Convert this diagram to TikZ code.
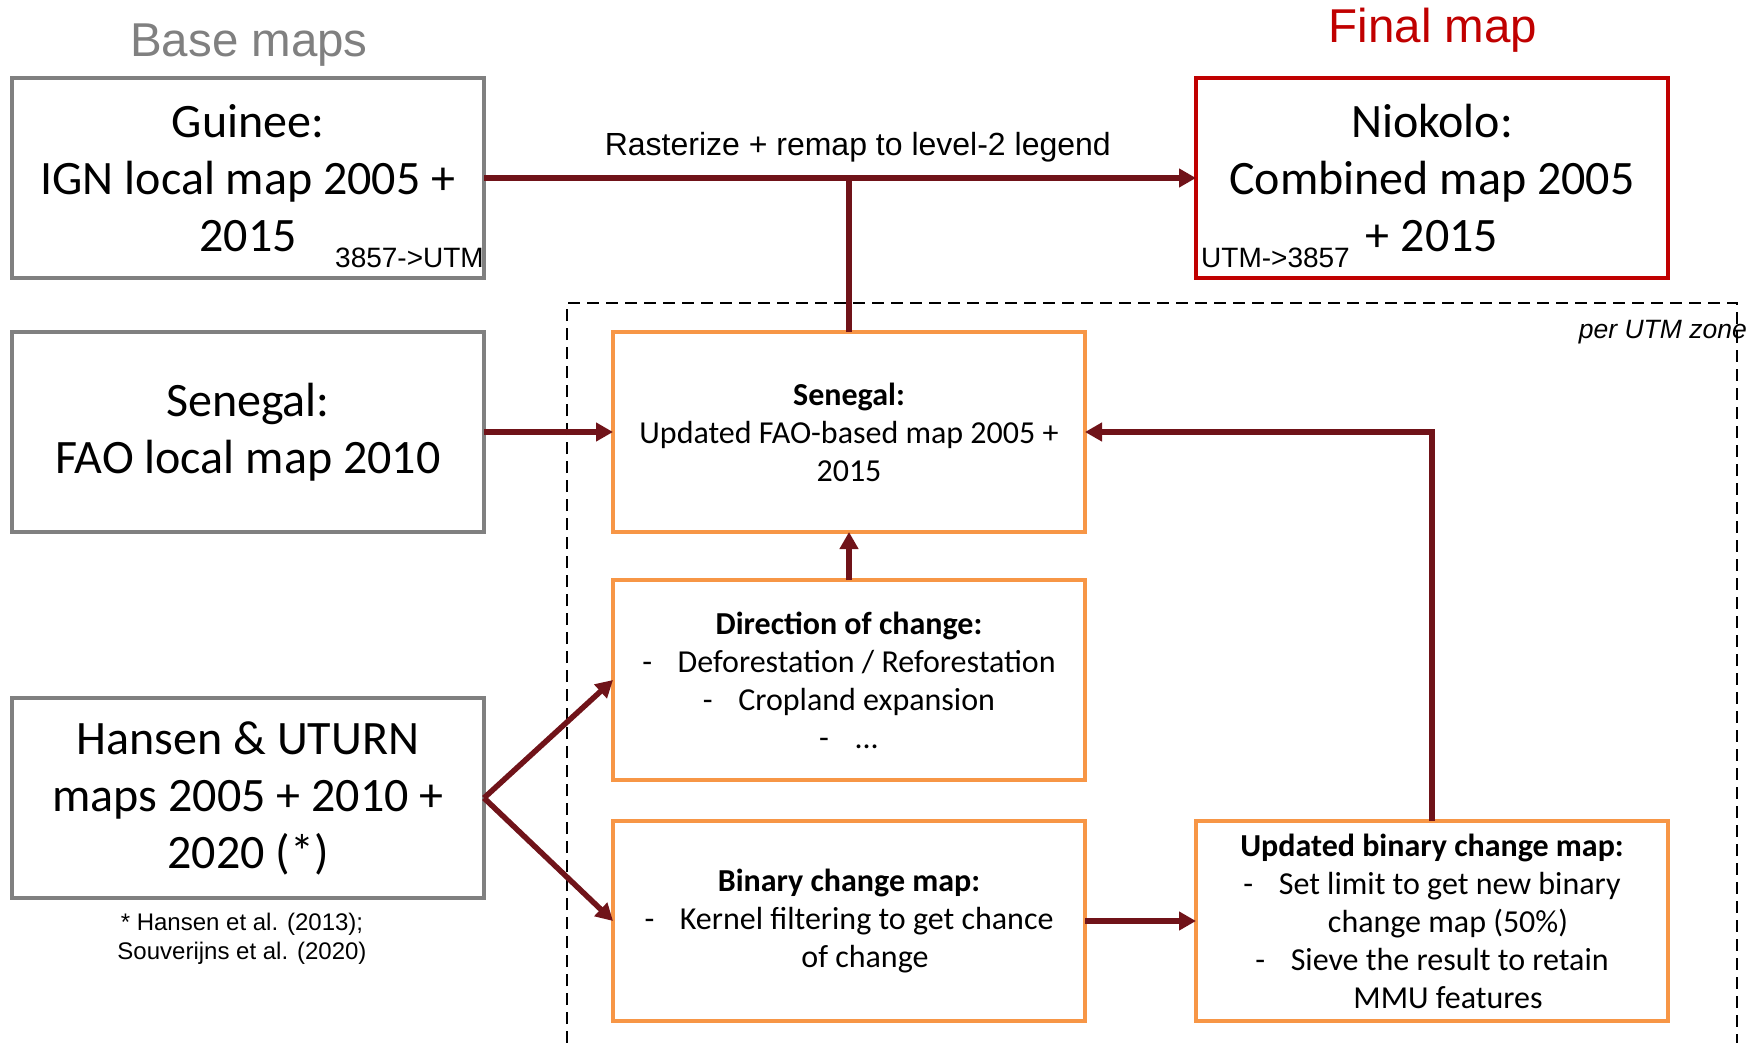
\documentclass[tikz,border=0pt]{standalone}
\usepackage{fontspec}
\setmainfont{Carlito}
\newfontfamily\arialfont{Liberation Sans}
\usetikzlibrary{arrows.meta,positioning}

\definecolor{arrowred}{RGB}{112,19,25}
\definecolor{boxgray}{RGB}{128,128,128}
\definecolor{stepborder}{RGB}{247,150,70}
\definecolor{finalred}{RGB}{192,0,0}

\begin{document}
\begin{tikzpicture}[x=1pt,y=-1pt,
    base node/.style={rectangle,draw=boxgray,line width=4.5pt,minimum width=472pt,
                      minimum height=200pt,outer sep=0pt,align=center,
                      font=\fontsize{48}{57}\selectfont},
    final node/.style={base node,draw=finalred},
    step node/.style={rectangle,draw=stepborder,line width=4.5pt,minimum width=472pt,
                      minimum height=200pt,inner sep=4pt,outer sep=0pt,align=center,
                      font=\fontsize{32}{38}\selectfont},
    flow/.style={-{Triangle[length=17pt,width=18pt]},line width=5.5pt,draw=arrowred},
    plain line/.style={line width=5.5pt,draw=arrowred},
    small text/.style={font=\arialfont\fontsize{28}{32}\selectfont,inner sep=0pt}]

  \useasboundingbox (0,0) rectangle (1756,1043);

  % per UTM zone frame
  \draw[line width=2pt,dash pattern=on 12pt off 7pt]
    (567,1043) -- (567,303) -- (1737,303) -- (1737,1043);
  \node[small text,font=\arialfont\itshape\fontsize{26.5}{30}\selectfont,anchor=east]
    (zone) at (1747,332) {per UTM zone};

  % titles
  \node[font=\arialfont\fontsize{47.5}{50}\selectfont,text=boxgray,anchor=base]
    (basetitle) at (249,57) {Base maps};
  \node[font=\arialfont\fontsize{47.5}{50}\selectfont,text=finalred,anchor=base]
    (finaltitle) at (1433,43) {Final map};

  % base maps
  \node[base node] (gui) at (248,178) {Guinee:\\IGN local map 2005 +\\2015};
  \node[base node] (sen) [below=54pt of gui] {Senegal:\\FAO local map 2010};
  \node[base node] (han) [below=166pt of sen] {Hansen \& UTURN\\maps 2005 + 2010 +\\2020 (*)};
  \node[small text,font=\arialfont\fontsize{24}{29}\selectfont,align=center]
    (cite) [below=15pt of han,xshift=-6pt] {* Hansen et al. (2013);\\Souverijns et al. (2020)};

  % processing steps
  \node[step node] (upd) [right=129pt of sen]
    {\textbf{Senegal:}\\Updated FAO-based map 2005 +\\2015};
  \node[step node] (dir) [below=48pt of upd]
    {\textbf{Direction of change:}\\-\hspace{0.8em}Deforestation / Reforestation\\
     -\hspace{0.8em}Cropland expansion\\-\hspace{0.8em}...};
  \node[step node] (bin) [below=41pt of dir]
    {\textbf{Binary change map:}\\-\hspace{0.8em}Kernel filtering to get chance\\
     \hspace*{1em}of change};
  \node[step node] (ubin) [right=111pt of bin]
    {\textbf{Updated binary change map:}\\-\hspace{0.8em}Set limit to get new binary\\
     \hspace*{1em}change map (50\%)\\-\hspace{0.8em}Sieve the result to retain\\
     \hspace*{1em}MMU features};

  % final map
  \node[final node] (nio) at (ubin |- gui) {Niokolo:\\Combined map 2005\\+ 2015};
  \node[small text,anchor=south east] (gproj) at ([yshift=10pt]gui.south east) {3857->UTM};
  \node[small text,anchor=south west] (nproj) at ([xshift=5pt,yshift=10pt]nio.south west) {UTM->3857};

  % connectors
  \draw[flow] (gui.east) -- node[pos=0.525,yshift=31pt,small text,
      font=\arialfont\fontsize{32}{34}\selectfont] (rast) {Rasterize + remap to level-2 legend}
    (nio.west);
  \draw[plain line] (upd.north) -- (upd.north |- gui.east);
  \draw[flow] (sen) -- (upd);
  \draw[flow] (dir) -- (upd);
  \draw[flow] (ubin.north) |- (upd.east);
  \draw[flow] (han.east) -- (dir.west);
  \draw[flow] (han.east) -- (bin.west);
  \draw[flow] (bin) -- (ubin);
\end{tikzpicture}
\end{document}
